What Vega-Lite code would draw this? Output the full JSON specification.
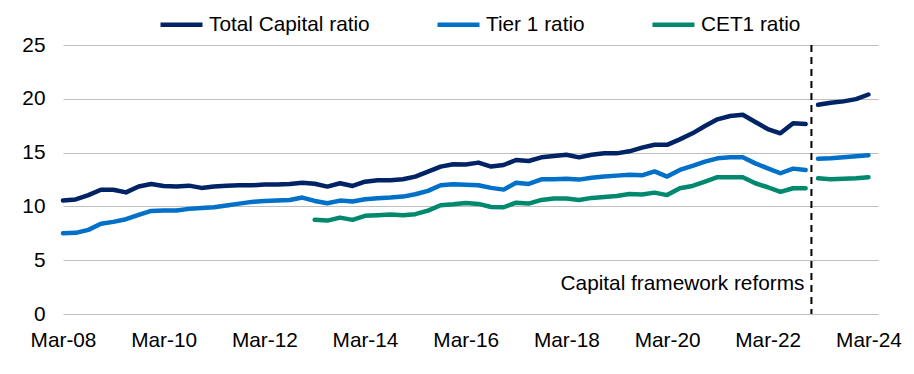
{
  "$schema": "https://vega.github.io/schema/vega-lite/v6.json",
  "width": 815,
  "height": 269,
  "autosize": {"type": "none"},
  "padding": {"left": 63, "top": 45, "right": 36, "bottom": 60},
  "background": "white",
  "config": {"view": {"stroke": null}, "font": "Liberation Sans"},
  "data": {"values": [
    {"date": "2008-03-01", "period": "pre", "total": 10.55, "tier1": 7.51, "cet1": null},
    {"date": "2008-06-01", "period": "pre", "total": 10.65, "tier1": 7.54, "cet1": null},
    {"date": "2008-09-01", "period": "pre", "total": 11.05, "tier1": 7.82, "cet1": null},
    {"date": "2008-12-01", "period": "pre", "total": 11.55, "tier1": 8.38, "cet1": null},
    {"date": "2009-03-01", "period": "pre", "total": 11.55, "tier1": 8.56, "cet1": null},
    {"date": "2009-06-01", "period": "pre", "total": 11.3, "tier1": 8.81, "cet1": null},
    {"date": "2009-09-01", "period": "pre", "total": 11.85, "tier1": 9.21, "cet1": null},
    {"date": "2009-12-01", "period": "pre", "total": 12.08, "tier1": 9.58, "cet1": null},
    {"date": "2010-03-01", "period": "pre", "total": 11.9, "tier1": 9.61, "cet1": null},
    {"date": "2010-06-01", "period": "pre", "total": 11.84, "tier1": 9.61, "cet1": null},
    {"date": "2010-09-01", "period": "pre", "total": 11.93, "tier1": 9.77, "cet1": null},
    {"date": "2010-12-01", "period": "pre", "total": 11.72, "tier1": 9.86, "cet1": null},
    {"date": "2011-03-01", "period": "pre", "total": 11.84, "tier1": 9.92, "cet1": null},
    {"date": "2011-06-01", "period": "pre", "total": 11.93, "tier1": 10.08, "cet1": null},
    {"date": "2011-09-01", "period": "pre", "total": 11.96, "tier1": 10.26, "cet1": null},
    {"date": "2011-12-01", "period": "pre", "total": 11.96, "tier1": 10.42, "cet1": null},
    {"date": "2012-03-01", "period": "pre", "total": 12.04, "tier1": 10.5, "cet1": null},
    {"date": "2012-06-01", "period": "pre", "total": 12.03, "tier1": 10.54, "cet1": null},
    {"date": "2012-09-01", "period": "pre", "total": 12.09, "tier1": 10.6, "cet1": null},
    {"date": "2012-12-01", "period": "pre", "total": 12.2, "tier1": 10.82, "cet1": null},
    {"date": "2013-03-01", "period": "pre", "total": 12.1, "tier1": 10.51, "cet1": 8.75},
    {"date": "2013-06-01", "period": "pre", "total": 11.84, "tier1": 10.3, "cet1": 8.68},
    {"date": "2013-09-01", "period": "pre", "total": 12.15, "tier1": 10.54, "cet1": 8.96},
    {"date": "2013-12-01", "period": "pre", "total": 11.9, "tier1": 10.45, "cet1": 8.75},
    {"date": "2014-03-01", "period": "pre", "total": 12.3, "tier1": 10.67, "cet1": 9.12},
    {"date": "2014-06-01", "period": "pre", "total": 12.43, "tier1": 10.76, "cet1": 9.18},
    {"date": "2014-09-01", "period": "pre", "total": 12.43, "tier1": 10.82, "cet1": 9.24},
    {"date": "2014-12-01", "period": "pre", "total": 12.52, "tier1": 10.91, "cet1": 9.18},
    {"date": "2015-03-01", "period": "pre", "total": 12.77, "tier1": 11.13, "cet1": 9.28},
    {"date": "2015-06-01", "period": "pre", "total": 13.23, "tier1": 11.44, "cet1": 9.61},
    {"date": "2015-09-01", "period": "pre", "total": 13.7, "tier1": 11.97, "cet1": 10.11},
    {"date": "2015-12-01", "period": "pre", "total": 13.92, "tier1": 12.06, "cet1": 10.2},
    {"date": "2016-03-01", "period": "pre", "total": 13.9, "tier1": 12.02, "cet1": 10.32},
    {"date": "2016-06-01", "period": "pre", "total": 14.07, "tier1": 11.97, "cet1": 10.23},
    {"date": "2016-09-01", "period": "pre", "total": 13.7, "tier1": 11.72, "cet1": 9.95},
    {"date": "2016-12-01", "period": "pre", "total": 13.85, "tier1": 11.56, "cet1": 9.92},
    {"date": "2017-03-01", "period": "pre", "total": 14.31, "tier1": 12.2, "cet1": 10.35},
    {"date": "2017-06-01", "period": "pre", "total": 14.22, "tier1": 12.09, "cet1": 10.26},
    {"date": "2017-09-01", "period": "pre", "total": 14.56, "tier1": 12.52, "cet1": 10.6},
    {"date": "2017-12-01", "period": "pre", "total": 14.68, "tier1": 12.52, "cet1": 10.73},
    {"date": "2018-03-01", "period": "pre", "total": 14.8, "tier1": 12.58, "cet1": 10.73},
    {"date": "2018-06-01", "period": "pre", "total": 14.56, "tier1": 12.49, "cet1": 10.6},
    {"date": "2018-09-01", "period": "pre", "total": 14.8, "tier1": 12.67, "cet1": 10.79},
    {"date": "2018-12-01", "period": "pre", "total": 14.93, "tier1": 12.77, "cet1": 10.88},
    {"date": "2019-03-01", "period": "pre", "total": 14.93, "tier1": 12.86, "cet1": 10.97},
    {"date": "2019-06-01", "period": "pre", "total": 15.12, "tier1": 12.95, "cet1": 11.16},
    {"date": "2019-09-01", "period": "pre", "total": 15.46, "tier1": 12.89, "cet1": 11.1},
    {"date": "2019-12-01", "period": "pre", "total": 15.73, "tier1": 13.25, "cet1": 11.28},
    {"date": "2020-03-01", "period": "pre", "total": 15.72, "tier1": 12.77, "cet1": 11.05},
    {"date": "2020-06-01", "period": "pre", "total": 16.23, "tier1": 13.39, "cet1": 11.69},
    {"date": "2020-09-01", "period": "pre", "total": 16.79, "tier1": 13.76, "cet1": 11.9},
    {"date": "2020-12-01", "period": "pre", "total": 17.47, "tier1": 14.16, "cet1": 12.3},
    {"date": "2021-03-01", "period": "pre", "total": 18.09, "tier1": 14.47, "cet1": 12.71},
    {"date": "2021-06-01", "period": "pre", "total": 18.4, "tier1": 14.56, "cet1": 12.71},
    {"date": "2021-09-01", "period": "pre", "total": 18.52, "tier1": 14.56, "cet1": 12.71},
    {"date": "2021-12-01", "period": "pre", "total": 17.84, "tier1": 14.0, "cet1": 12.15},
    {"date": "2022-03-01", "period": "pre", "total": 17.19, "tier1": 13.54, "cet1": 11.78},
    {"date": "2022-06-01", "period": "pre", "total": 16.79, "tier1": 13.08, "cet1": 11.35},
    {"date": "2022-09-01", "period": "pre", "total": 17.72, "tier1": 13.51, "cet1": 11.69},
    {"date": "2022-12-01", "period": "pre", "total": 17.65, "tier1": 13.39, "cet1": 11.69},
    {"date": "2023-03-01", "period": "post", "total": 19.44, "tier1": 14.43, "cet1": 12.61},
    {"date": "2023-06-01", "period": "post", "total": 19.63, "tier1": 14.47, "cet1": 12.52},
    {"date": "2023-09-01", "period": "post", "total": 19.76, "tier1": 14.56, "cet1": 12.58},
    {"date": "2023-12-01", "period": "post", "total": 19.97, "tier1": 14.66, "cet1": 12.61},
    {"date": "2024-03-01", "period": "post", "total": 20.4, "tier1": 14.75, "cet1": 12.71}
  ]},
  "layer": [
    {
      "transform": [{"fold": ["total", "tier1", "cet1"], "as": ["series", "value"]}],
      "mark": {"type": "line", "strokeWidth": 4.5, "strokeCap": "round", "strokeJoin": "round"},
      "encoding": {
        "x": {
          "field": "date", "type": "temporal",
          "scale": {"type": "utc", "domain": [{"year": 2008, "month": 3, "date": 1, "utc": true}, {"year": 2024, "month": 5, "date": 9, "utc": true}]},
          "axis": {
            "values": [
              {"year": 2008, "month": 3, "date": 1, "utc": true},
              {"year": 2010, "month": 3, "date": 1, "utc": true},
              {"year": 2012, "month": 3, "date": 1, "utc": true},
              {"year": 2014, "month": 3, "date": 1, "utc": true},
              {"year": 2016, "month": 3, "date": 1, "utc": true},
              {"year": 2018, "month": 3, "date": 1, "utc": true},
              {"year": 2020, "month": 3, "date": 1, "utc": true},
              {"year": 2022, "month": 3, "date": 1, "utc": true},
              {"year": 2024, "month": 3, "date": 1, "utc": true}
            ],
            "format": "%b-%y", "grid": false, "domain": false, "ticks": false, "tickSize": 0,
            "labelPadding": 16, "labelFontSize": 20.8, "labelColor": "#000000", "labelFont": "Liberation Sans",
            "labelOverlap": false, "labelFlush": false, "title": null
          }
        },
        "y": {
          "field": "value", "type": "quantitative",
          "scale": {"domain": [0, 25], "nice": false},
          "axis": {
            "values": [0, 5, 10, 15, 20, 25], "grid": true, "gridColor": "#BFBFBF", "gridWidth": 1,
            "domain": false, "ticks": false, "tickSize": 0, "labelPadding": 18, "labelFontSize": 20.8,
            "labelColor": "#000000", "labelFont": "Liberation Sans", "title": null
          }
        },
        "color": {
          "field": "series", "type": "nominal",
          "scale": {"domain": ["total", "tier1", "cet1"], "range": ["#002366", "#0070C8", "#00896F"]},
          "legend": {
            "orient": "none", "legendX": 95, "legendY": -44, "direction": "horizontal", "title": null,
            "symbolType": "stroke", "symbolSize": 1764, "symbolStrokeWidth": 4.5,
            "labelFontSize": 20.8, "labelFont": "Liberation Sans", "labelColor": "#000000", "labelOffset": 4,
            "labelLimit": 300, "columnPadding": 58, "padding": 0,
            "labelExpr": "datum.label == 'total' ? 'Total Capital ratio' : datum.label == 'tier1' ? 'Tier 1 ratio' : 'CET1 ratio'"
          }
        },
        "detail": {"field": "period"}
      }
    },
    {
      "data": {"values": [{}]},
      "mark": {"type": "rule", "strokeDash": [7, 5], "strokeWidth": 2, "color": "#000000"},
      "encoding": {"x": {"datum": {"year": 2023, "month": 1, "date": 12, "utc": true}, "type": "temporal"}}
    },
    {
      "data": {"values": [{}]},
      "mark": {"type": "text", "text": "Capital framework reforms", "align": "right", "baseline": "alphabetic", "dx": -7, "fontSize": 20.8, "font": "Liberation Sans", "color": "#000000"},
      "encoding": {
        "x": {"datum": {"year": 2023, "month": 1, "date": 12, "utc": true}, "type": "temporal"},
        "y": {"datum": 2.25, "type": "quantitative"}
      }
    }
  ]
}
